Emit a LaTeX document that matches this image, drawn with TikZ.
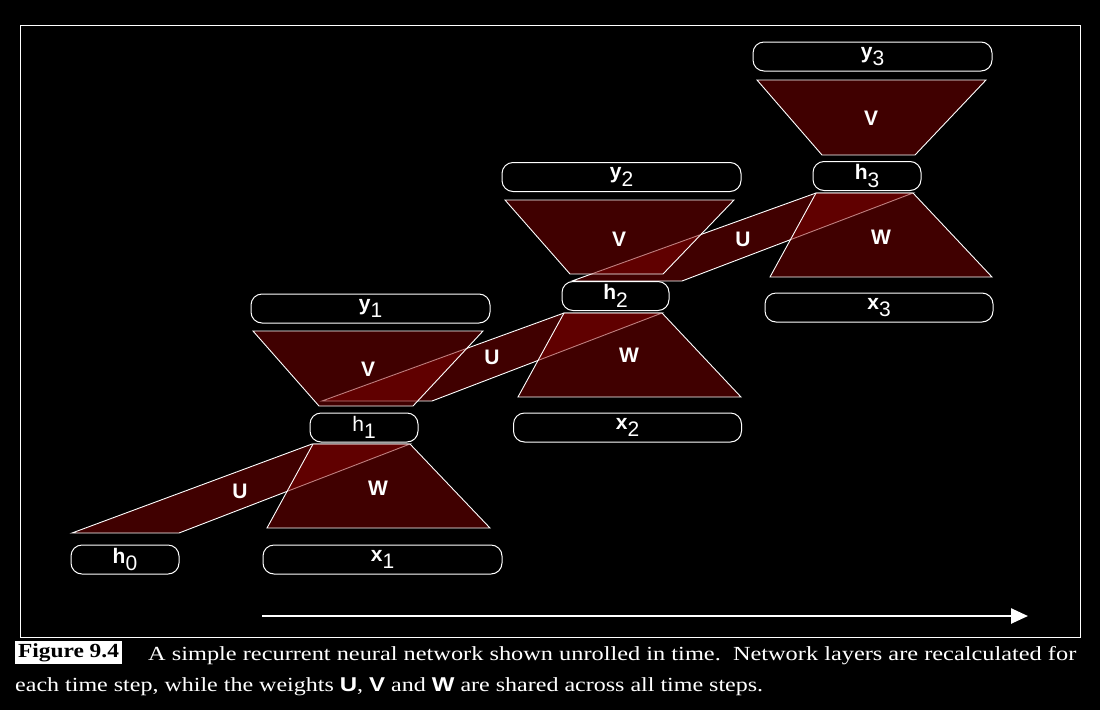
\documentclass[tikz,border=0pt]{standalone}
\usepackage{fontspec}
\usepackage{graphicx}
\setmainfont{Liberation Serif}
\setsansfont{Liberation Sans}
\usetikzlibrary{arrows.meta}
\definecolor{wred}{RGB}{128,0,0}
\newcommand\lblsize{\fontsize{21}{25}\selectfont}
\newcommand\vsub[2]{\textbf{#1}\raisebox{-0.36em}{\mdseries #2}}
\newcommand\vsubn[2]{#1\raisebox{-0.36em}{#2}}
\begin{document}
\begin{tikzpicture}[x=1pt,y=-1pt,
  box/.style={draw=white, line width=1pt, rounded corners=11pt, minimum height=29pt,
     inner sep=0pt, text=white, font=\sffamily\lblsize},
  wt/.style={draw=white, line width=0.9pt, fill=wred, fill opacity=0.5, line join=miter},
  wlabel/.style={text=white, inner sep=0pt, font=\sffamily\bfseries\lblsize},
  capt/.style={text=white, inner sep=0pt, anchor=base west, font=\fontsize{20}{24}\selectfont}]
\fill[black] (0,0) rectangle (1100,710);
\useasboundingbox (0,0) rectangle (1100,710);
\draw[white, line width=1pt] (20,25) rectangle (1080,637);

% U bands (drawn first, under the trapezoids)
\path[wt] (72,533) -- (179,533) -- (410,444) -- (312,444) -- cycle;
\path[wt] (322,401) -- (432,401) -- (662,313) -- (564,313) -- cycle;
\path[wt] (572,281) -- (682,281) -- (913,193) -- (816,193) -- cycle;

% W trapezoids
\path[wt] (313,444) -- (410,444) -- (490,528) -- (267,528) -- cycle;
\path[wt] (564,313) -- (662,313) -- (741,397) -- (518,397) -- cycle;
\path[wt] (816,193) -- (913,193) -- (992,277) -- (770,277) -- cycle;
% V trapezoids
\path[wt] (253,331) -- (483,331) -- (413,406) -- (319,406) -- cycle;
\path[wt] (505,200) -- (734,200) -- (663,274) -- (570,274) -- cycle;
\path[wt] (757,80) -- (986,80) -- (915,155) -- (822,155) -- cycle;

% weight labels
\node[wlabel] (U1) at (240,491) {U};
\node[wlabel] (U2) at (492,357) {U};
\node[wlabel] (U3) at (743,239) {U};
\node[wlabel] (W1) at (378,488) {W};
\node[wlabel] (W2) at (629,355) {W};
\node[wlabel] (W3) at (881,237) {W};
\node[wlabel] (V1) at (368,369) {V};
\node[wlabel] (V2) at (619,239) {V};
\node[wlabel] (V3) at (871,118) {V};

% layer boxes
\node[box, minimum width=108pt] (h0) at (125,559.5) {\vsub{h}{0}};
\node[box, minimum width=239pt] (x1) at (382.5,559.5) {\vsub{x}{1}};
\node[box, minimum width=108pt] (h1) at (364,427.5) {\vsubn{h}{1}};
\node[box, minimum width=239pt] (y1) at (370.5,308.5) {\vsub{y}{1}};
\node[box, minimum width=228pt] (x2) at (627.5,427.5) {\vsub{x}{2}};
\node[box, minimum width=107pt] (h2) at (615.5,296) {\vsub{h}{2}};
\node[box, minimum width=239pt] (y2) at (621.5,177) {\vsub{y}{2}};
\node[box, minimum width=228pt] (x3) at (879,307.5) {\vsub{x}{3}};
\node[box, minimum width=108pt] (h3) at (867,176) {\vsub{h}{3}};
\node[box, minimum width=239pt] (y3) at (872.5,56.5) {\vsub{y}{3}};

% time arrow
\coordinate (t0) at (262,616);
\coordinate (t1) at (1028,616);
\draw[white, line width=2.5pt, -{Triangle[length=17pt,width=15pt]}] (t0) -- (t1);

% caption
\node[fill=white, text=black, minimum width=107pt, minimum height=23pt, inner sep=0pt,
  font=\fontsize{20}{24}\selectfont\bfseries] (fig) at (68.5,652.5) {\resizebox{101pt}{\height}{Figure 9.4}};
\node[capt] (c1) at (148,660) {\resizebox{928pt}{\height}{A simple recurrent neural network shown unrolled in time.\ \ Network layers are recalculated for}};
\node[capt] (c2) at (15,691) {\resizebox{748pt}{\height}{each time step, while the weights \textsf{\textbf{U}}, \textsf{\textbf{V}} and \textsf{\textbf{W}} are shared across all time steps.}};
\end{tikzpicture}
\end{document}
